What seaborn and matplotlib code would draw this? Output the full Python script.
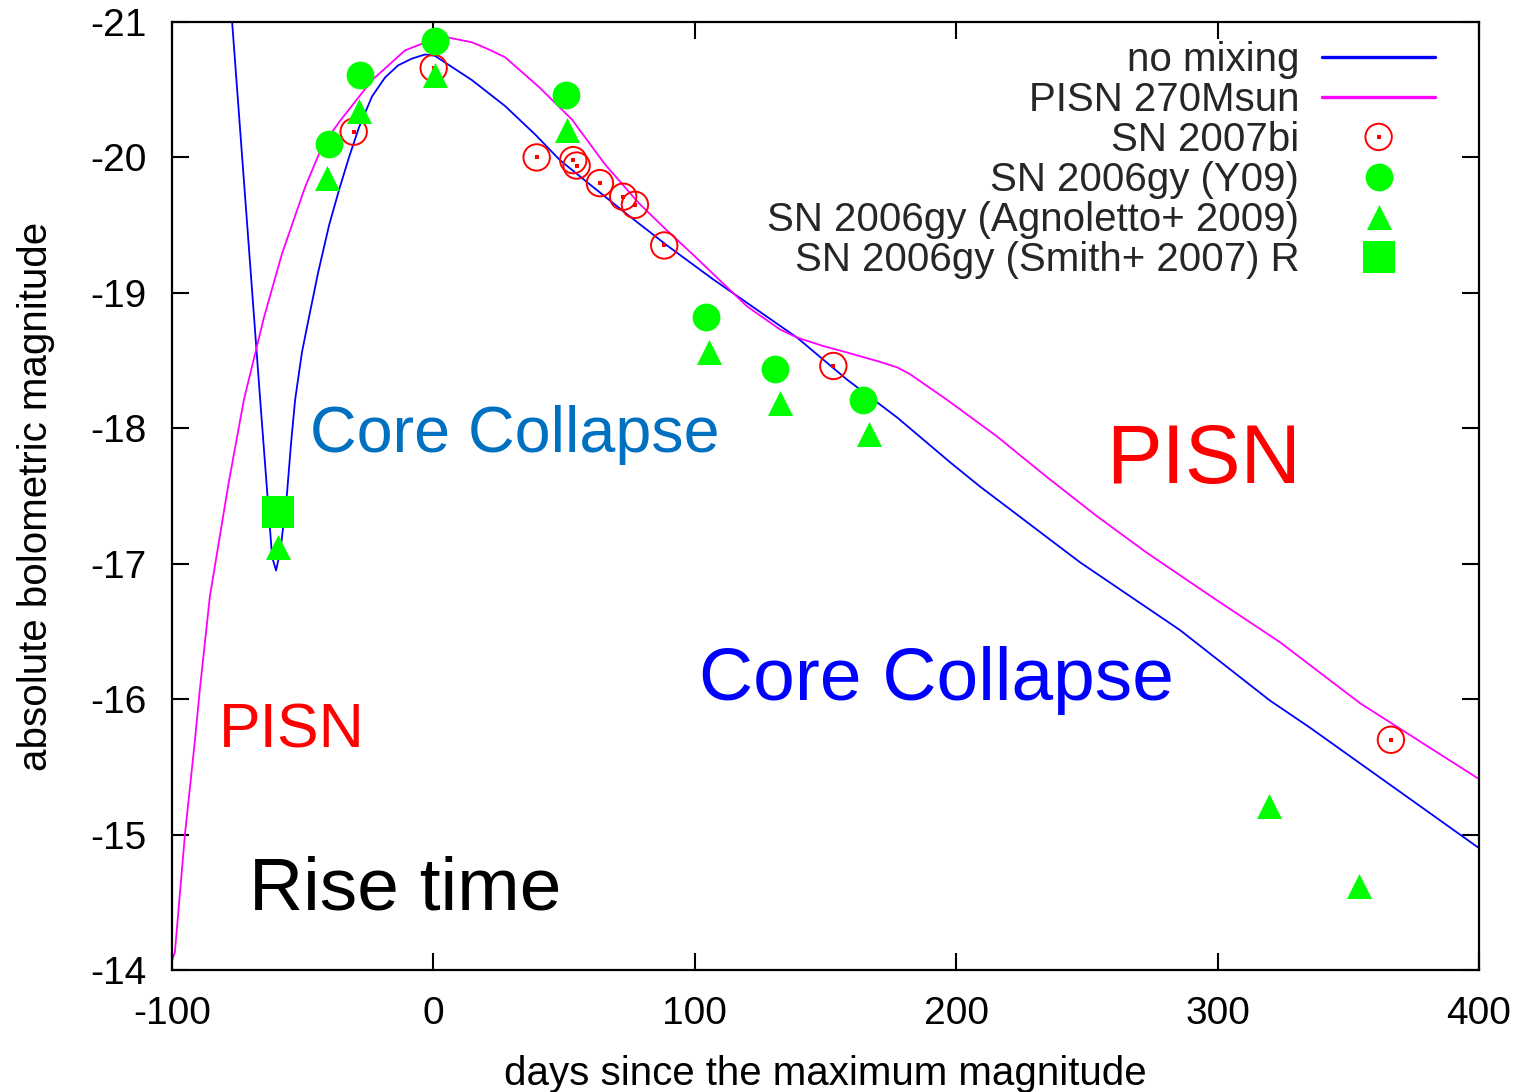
import matplotlib
matplotlib.use("Agg")
import matplotlib.pyplot as plt
import seaborn as sns

# ---- model light curves (days since maximum, absolute bolometric magnitude) ----
nomix_days = [-80.0, -77.0, -66.3, -61.7, -60.2, -58.5, -56.0, -54.5, -52.9, -50.3,
              -47.6, -44.1, -39.9, -36.1, -32.3, -28.5, -23.5, -18.5, -13.5, -8.2,
              -3.2, 0.6, 14.8, 27.4, 38.9, 48.4, 59.9, 74.1, 89.4, 107.0,
              139.1, 158.2, 177.4, 197.6, 209.1, 247.4, 285.6, 320.0, 335.3, 400.0]
nomix_mag = [-21.76, -21.00, -18.22, -17.05, -16.95, -17.10, -17.52, -17.88, -18.21, -18.56,
             -18.82, -19.15, -19.50, -19.76, -20.00, -20.22, -20.45, -20.59, -20.68, -20.73,
             -20.76, -20.75, -20.57, -20.38, -20.17, -19.98, -19.80, -19.58, -19.35, -19.10,
             -18.67, -18.36, -18.08, -17.75, -17.57, -17.01, -16.51, -15.99, -15.79, -14.90]

pisn_days = [-100.0, -98.9, -95.0, -91.2, -89.3, -85.5, -78.3, -72.5, -64.8, -57.9,
             -49.1, -42.6, -36.1, -23.5, -10.9, -3.0, 4.4, 14.8, 20.9, 27.4,
             40.4, 53.0, 65.6, 78.7, 89.4, 98.9, 120.0, 132.6, 139.1, 148.7,
             158.2, 170.9, 177.4, 182.3, 196.5, 215.6, 234.7, 253.9, 273.0, 298.2,
             323.9, 354.5, 400.0]
pisn_mag = [-14.07, -14.13, -15.01, -15.70, -16.08, -16.76, -17.60, -18.21, -18.82, -19.29,
            -19.78, -20.08, -20.26, -20.57, -20.79, -20.85, -20.89, -20.85, -20.80, -20.74,
            -20.52, -20.28, -19.95, -19.66, -19.46, -19.29, -18.90, -18.73, -18.67, -18.61,
            -18.56, -18.49, -18.45, -18.40, -18.21, -17.94, -17.64, -17.35, -17.08, -16.75,
            -16.42, -15.97, -15.41]

# ---- observations ----
sn2007bi_days = [-30.5, 0.1, 39.5, 53.5, 54.8, 63.7, 72.6, 77.1, 88.3, 153.0, 366.3]
sn2007bi_mag = [-20.19, -20.66, -20.00, -19.98, -19.94, -19.81, -19.71, -19.65, -19.35, -18.46, -15.70]

y09_days = [-40.1, -28.0, 0.5, 50.7, 104.3, 130.7, 164.5]
y09_mag = [-20.10, -20.61, -20.86, -20.46, -18.82, -18.44, -18.21]

agno_days = [-59.5, -40.7, -28.6, 0.5, 51.1, 105.5, 132.6, 166.8, 319.8, 354.2]
agno_mag = [-17.12, -19.85, -20.34, -20.61, -20.20, -18.56, -18.19, -17.96, -15.21, -14.62]

smith_days = [-59.3]
smith_mag = [-17.38]

legend_labels = ["no mixing", "PISN 270Msun", "SN 2007bi", "SN 2006gy (Y09)",
                 "SN 2006gy (Agnoletto+ 2009)", "SN 2006gy (Smith+ 2007) R"]

x_ticks = [-100, 0, 100, 200, 300, 400]
y_ticks = [-21, -20, -19, -18, -17, -16, -15, -14]

sns.set_theme(style="ticks")
plt.rcParams["font.family"] = ["Liberation Sans", "DejaVu Sans"]
plt.rcParams["axes.unicode_minus"] = False

W, H = 1532, 1092
fig = plt.figure(figsize=(W / 100, H / 100), dpi=100)
ax = fig.add_axes([172 / W, 1 - 970 / H, 1307 / W, 948 / H])

BLUE = "#0000ff"
MAGENTA = "#ff00ff"
RED = "#ff0000"
GREEN = "#00ff00"

sns.lineplot(x=nomix_days, y=nomix_mag, ax=ax, color=BLUE, lw=1.3,
             sort=False, estimator=None, zorder=2)
sns.lineplot(x=pisn_days, y=pisn_mag, ax=ax, color=MAGENTA, lw=1.3,
             sort=False, estimator=None, zorder=2)

sns.scatterplot(x=sn2007bi_days, y=sn2007bi_mag, ax=ax, marker="o", s=19 ** 2,
                facecolors="none", edgecolor=RED, linewidth=1.4, zorder=3)
sns.scatterplot(x=sn2007bi_days, y=sn2007bi_mag, ax=ax, marker="s", s=2.6 ** 2,
                color=RED, linewidth=0, zorder=3)
sns.scatterplot(x=y09_days, y=y09_mag, ax=ax, marker="o", s=20 ** 2,
                color=GREEN, linewidth=0, zorder=4)
sns.scatterplot(x=agno_days, y=agno_mag, ax=ax, marker="^", s=18 ** 2,
                color=GREEN, linewidth=0, zorder=4)
sns.scatterplot(x=smith_days, y=smith_mag, ax=ax, marker="s", s=22.5 ** 2,
                color=GREEN, linewidth=0, zorder=5)

ax.set_xlim(-100, 400)
ax.set_ylim(-14, -21)
ax.set_xticks(x_ticks)
ax.set_yticks(y_ticks)

for sp in ax.spines.values():
    sp.set_linewidth(1.6)
    sp.set_color("black")
ax.tick_params(direction="in", length=12, width=1.5, top=True, right=True,
               labelsize=28, colors="black")
ax.tick_params(axis="x", pad=19)
ax.tick_params(axis="y", pad=18)

ax.set_xlabel("days since the maximum magnitude", fontsize=29, color="black")
ax.xaxis.label.set_va("baseline")
ax.xaxis.set_label_coords(0.5, -(1085 - 970) / 948)
ax.set_ylabel("absolute bolometric magnitude", fontsize=29, color="black")
ax.yaxis.label.set_va("center")
ax.yaxis.set_label_coords((36 - 172) / 1307, 0.5)

# region annotations
ax.text(-47.2, -17.825, "Core Collapse", fontsize=46.5, color="#0070c0", va="baseline", ha="left")
ax.text(101.6, -15.994, "Core Collapse", fontsize=54, color=BLUE, va="baseline", ha="left")
ax.text(257.3, -17.596, "PISN", fontsize=60, color=RED, va="baseline", ha="left")
ax.text(-82.0, -15.64, "PISN", fontsize=45, color=RED, va="baseline", ha="left")
ax.text(-70.5, -14.45, "Rise time", fontsize=54, color="black", va="baseline", ha="left")

lines = ax.lines
cols = ax.collections
handles = [lines[0], lines[1], (cols[0], cols[1]), cols[2], cols[3], cols[4]]
leg = ax.legend(handles, legend_labels, loc="upper right",
                bbox_to_anchor=((1435 - 172) / 1307, 1 - (41 - 22) / 948),
                frameon=False, markerfirst=False, fontsize=29,
                handlelength=2.8, handletextpad=0.57, labelspacing=0.05,
                borderpad=0, borderaxespad=0, scatteryoffsets=[0.5])
for ln in leg.get_lines():
    ln.set_linewidth(2.4)

fig.savefig("out.png", dpi=100)
